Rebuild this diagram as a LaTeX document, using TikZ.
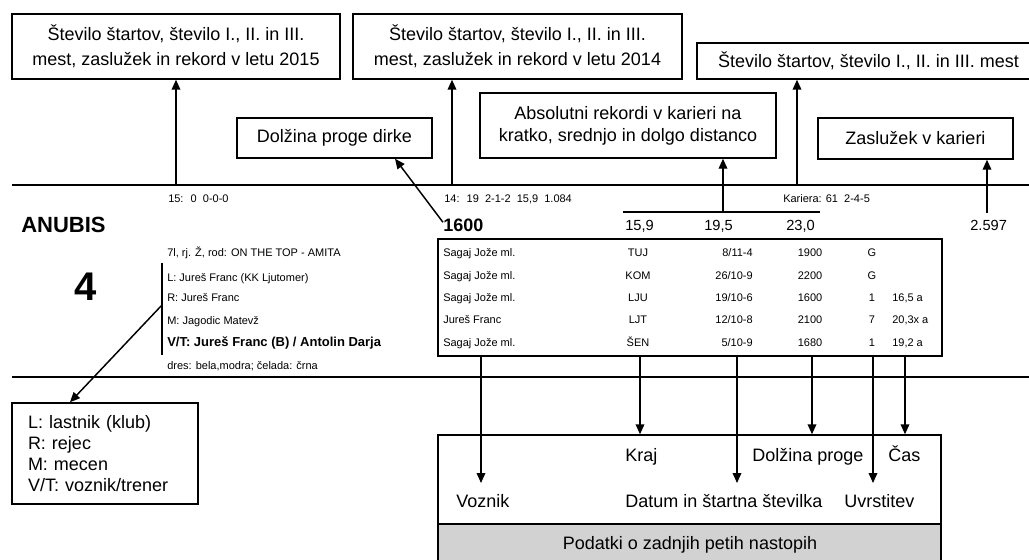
\documentclass[tikz,border=0pt]{standalone}
\usepackage{fontspec}
\setmainfont{Liberation Sans}
\usetikzlibrary{arrows.meta}
\begin{document}
\begin{tikzpicture}[x=0.75pt,y=-0.75pt,
 box/.style={draw,line width=1.1pt,inner sep=0pt,align=center},
 big/.style={font=\fontsize{13.5}{16}\selectfont},
 sm/.style={font=\fontsize{8.25}{10}\selectfont,inner sep=0pt},
 lab/.style={big,inner sep=0pt,anchor=base west},
 ln/.style={line width=1.1pt},
 arr/.style={line width=1.1pt,-{Triangle[length=7.5pt,width=6.5pt]}},
 num/.style={inner sep=0pt,anchor=base west,font=\fontsize{11}{13}\selectfont},
]
\useasboundingbox (0,0) rectangle (1029,560);
\clip (0,0) rectangle (1029,560);

% top boxes
\node[box,font=\fontsize{13.5}{18.75}\selectfont,minimum width=328*0.75pt,minimum height=65*0.75pt] (y15) at (176,46.5) {Število štartov, število I., II. in III.\\mest, zaslužek in rekord v letu 2015};
\node[box,font=\fontsize{13.5}{18.75}\selectfont,minimum width=329*0.75pt,minimum height=65*0.75pt] (y14) at (517.5,46.5) {Število štartov, število I., II. in III.\\mest, zaslužek in rekord v letu 2014};
\node[box,big,minimum width=343*0.75pt,minimum height=36*0.75pt] (kar) at (868.5,61) {Število štartov, število I., II. in III. mest};
\node[box,big,minimum width=195*0.75pt,minimum height=40*0.75pt] (dol) at (334.5,138) {Dolžina proge dirke};
\node[box,font=\fontsize{13.5}{16.5}\selectfont,minimum width=296*0.75pt,minimum height=65*0.75pt] (abs) at (628,125.5) {Absolutni rekordi v karieri na\\kratko, srednjo in dolgo distanco};
\node[box,big,minimum width=195*0.75pt,minimum height=41*0.75pt] (zas) at (915.5,138.5) {Zaslužek v karieri};

% separator lines
\coordinate (L1a) at (12,185); \coordinate (L1b) at (1035,185);
\draw[ln] (L1a) -- (L1b);
\coordinate (L2a) at (12,377); \coordinate (L2b) at (1035,377);
\draw[ln] (L2a) -- (L2b);

% stats
\node[sm,anchor=base west] (st15) at (168,202) {15:~ 0~ 0-0-0};
\node[sm,anchor=base west] (st14) at (444,202) {14:~ 19~ 2-1-2~ 15,9~ 1.084};
\node[sm,anchor=base west] (stk) at (783,202) {Kariera: 61~ 2-4-5};

% horse
\node[anchor=base west,inner sep=0pt,font=\fontsize{16.5}{18}\selectfont\bfseries] (name) at (21,232) {ANUBIS};
\node[anchor=base,inner sep=0pt,font=\fontsize{30}{32}\selectfont\bfseries] (hnum) at (86,300) {4};

\node[sm,anchor=base west] (i0) at (167,256) {7l, rj. Ž, rod: ON THE TOP - AMITA};
\node[sm,anchor=base west] (i1) at (167,281) {L: Jureš Franc (KK Ljutomer)};
\node[sm,anchor=base west] (i2) at (167,301) {R: Jureš Franc};
\node[sm,anchor=base west] (i3) at (167,324) {M: Jagodic Matevž};
\node[sm,anchor=base west,font=\fontsize{9.75}{11}\selectfont\bfseries] (i4) at (167,346.5) {V/T: Jureš Franc (B) / Antolin Darja};
\node[sm,anchor=base west] (i5) at (167,369) {dres: bela,modra; čelada: črna};
\coordinate (bt) at (162,263); \coordinate (bb) at (162,355);
\draw[ln] (bt) -- (bb);

% legend
\node[box,align=left,font=\fontsize{13.5}{15.75}\selectfont,minimum width=186*0.75pt,minimum height=101*0.75pt,text width=154*0.75pt] (leg) at (105,453.5) {L: lastnik (klub)\\R: rejec\\M: mecen\\V/T: voznik/trener};

% records
\node[anchor=base west,inner sep=0pt,font=\fontsize{13.5}{15}\selectfont\bfseries] (d1600) at (443,231.5) {1600};
\coordinate (rl1) at (623,212); \coordinate (rl2) at (820,212);
\draw[ln] (rl1) -- (rl2);
\node[num] (r1) at (625,230.5) {15,9};
\node[num] (r2) at (704,230.5) {19,5};
\node[num] (r3) at (786,230.5) {23,0};
\node[num] (earn) at (970,230.5) {2.597};

% table
\node[draw,line width=1.1pt,minimum width=504*0.75pt,minimum height=117*0.75pt,inner sep=0pt] (tbl) at (690,297.5) {};
\foreach \yy/\nm/\kr/\dt/\ds/\pl/\tm [count=\i] in {
  256/Sagaj Jože ml./TUJ/{8\slash 11-4}/1900/G/{},
  279/Sagaj Jože ml./KOM/{26\slash 10-9}/2200/G/{},
  301/Sagaj Jože ml./LJU/{19\slash 10-6}/1600/1/{16,5 a},
  323/Jureš Franc/LJT/{12\slash 10-8}/2100/7/{20,3x a},
  346/Sagaj Jože ml./ŠEN/{5\slash 10-9}/1680/1/{19,2 a}}{
  \node[sm,anchor=base west] (n\i) at (443,\yy) {\nm};
  \node[sm,anchor=base] (k\i) at (638,\yy) {\kr};
  \node[sm,anchor=base east] (d\i) at (753,\yy) {\dt};
  \node[sm,anchor=base] (s\i) at (810,\yy) {\ds};
  \node[sm,anchor=base] (p\i) at (872,\yy) {\pl};
  \node[sm,anchor=base west] (t\i) at (892,\yy) {\tm};
}

% bottom box
\node[draw,line width=1.1pt,minimum width=503*0.75pt,minimum height=89*0.75pt,inner sep=0pt] (bot) at (689.5,479.5) {};
\node[draw,line width=1.1pt,fill=gray!35,minimum width=503*0.75pt,minimum height=50*0.75pt,inner sep=0pt] (pod) at (689.5,549) {};
\node[big,inner sep=0pt,anchor=base] (podt) at (690,549.5) {Podatki o zadnjih petih nastopih};
\node[lab] (kraj) at (625,461.5) {Kraj};
\node[lab] (dolp) at (752,461.5) {Dolžina proge};
\node[lab] (cas) at (888,461.5) {Čas};
\node[lab] (voz) at (456,507.5) {Voznik};
\node[lab] (dat) at (625,507.5) {Datum in štartna številka};
\node[lab] (uvr) at (844,507.5) {Uvrstitev};

% arrows
\coordinate (s15) at (176,185); \draw[arr] (s15) -- (y15.south);
\coordinate (s14) at (452,185); \draw[arr] (s14) -- (s14 |- y14.south);
\coordinate (skar) at (797,185); \draw[arr] (skar) -- (skar |- kar.south);
\coordinate (sabs) at (723,212); \draw[arr] (sabs) -- (sabs |- abs.south);
\coordinate (searn) at (987,213); \draw[arr] (searn) -- (searn |- zas.south);
\draw[arr] ([yshift=2.25pt]d1600.west) -- ([xshift=45.4pt]dol.south);
\coordinate (bm) at (162,305); \draw[arr] (bm) -- ([xshift=-26.25pt]leg.north);
\foreach \x in {481,737,873}{
  \coordinate (tb\x) at (\x,356); \coordinate (te\x) at (\x,483);
  \draw[arr] (tb\x) -- (te\x);
}
\foreach \x in {640,812,905}{
  \coordinate (tb\x) at (\x,356);
  \draw[arr] (tb\x) -- (tb\x |- bot.north);
}
\end{tikzpicture}
\end{document}
